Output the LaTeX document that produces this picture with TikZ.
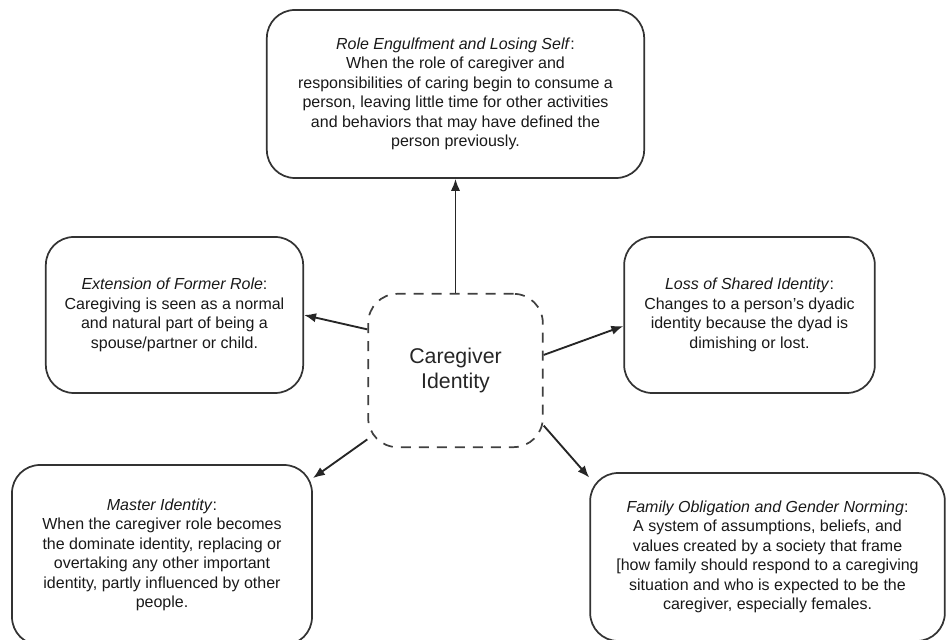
\documentclass[tikz,border=0pt]{standalone}
\usepackage{fontspec}
\setmainfont{Liberation Sans}
\usetikzlibrary{arrows.meta,positioning}

\begin{document}
\begin{tikzpicture}[
    x=0.75pt, y=0.75pt,
    idbox/.style={draw=black!80, line width=1.3pt, rounded corners=21pt,
                  align=center, font=\fontsize{12}{14.6}\selectfont, text=black!90},
    core/.style={draw=black!75, line width=1.3pt, dash pattern=on 7.5pt off 6pt,
                 rounded corners=22pt, align=center,
                 font=\fontsize{16}{19}\selectfont, text=black!85},
    arr/.style={-{Latex[length=9pt,width=7pt]}, line width=1.4pt, black!85}
  ]
  \useasboundingbox (0,0) rectangle (946,639);
  \clip (0,0) rectangle (946,639);
  % --- centre ---
  \node[core, minimum width=131pt, minimum height=115pt] (ci) at (455.5,268.5)
    {Caregiver\\Identity};
  % --- upper row ---
  \node[idbox, minimum width=283pt, minimum height=126pt] (role) at (455.5,545)
    {\textit{Role Engulfment and Losing Self}:\\
     When the role of caregiver and\\
     responsibilities of caring begin to consume a\\
     person, leaving little time for other activities\\
     and behaviors that may have defined the\\
     person previously.};
  \node[idbox, minimum width=193pt, minimum height=117pt] (ext) at (174.5,324)
    {\textit{Extension of Former Role}:\\
     Caregiving is seen as a normal\\
     and natural part of being a\\
     spouse/partner or child.};
  \node[idbox, minimum width=188pt, minimum height=117pt] (loss) at (749.5,324)
    {\textit{Loss of Shared Identity}:\\
     Changes to a person's dyadic\\
     identity because the dyad is\\
     dimishing or lost.};
  % --- lower row ---
  \node[idbox, minimum width=225pt, minimum height=135pt] (master) at (162,84)
    {\textit{Master Identity}:\\
     When the caregiver role becomes\\
     the dominate identity, replacing or\\
     overtaking any other important\\
     identity, partly influenced by other\\
     people.};
  \node[idbox, minimum width=266pt, minimum height=126pt] (fam) at (767.5,82)
    {\textit{Family Obligation and Gender Norming}:\\
     A system of assumptions, beliefs, and\\
     values created by a society that frame\\
     {[}how family should respond to a caregiving\\
     situation and who is expected to be the\\
     caregiver, especially females.};
  % --- arrows ---
  \draw[arr] (ci.north) -- (role.south);
  \draw[arr] (ci.155) -- (ext.east);
  \draw[arr] (ci.10) -- (loss.185);
  \draw[arr] (ci.218) -- (master.27);
  \draw[arr] (ci.-32) -- (fam.156);
\end{tikzpicture}
\end{document}
